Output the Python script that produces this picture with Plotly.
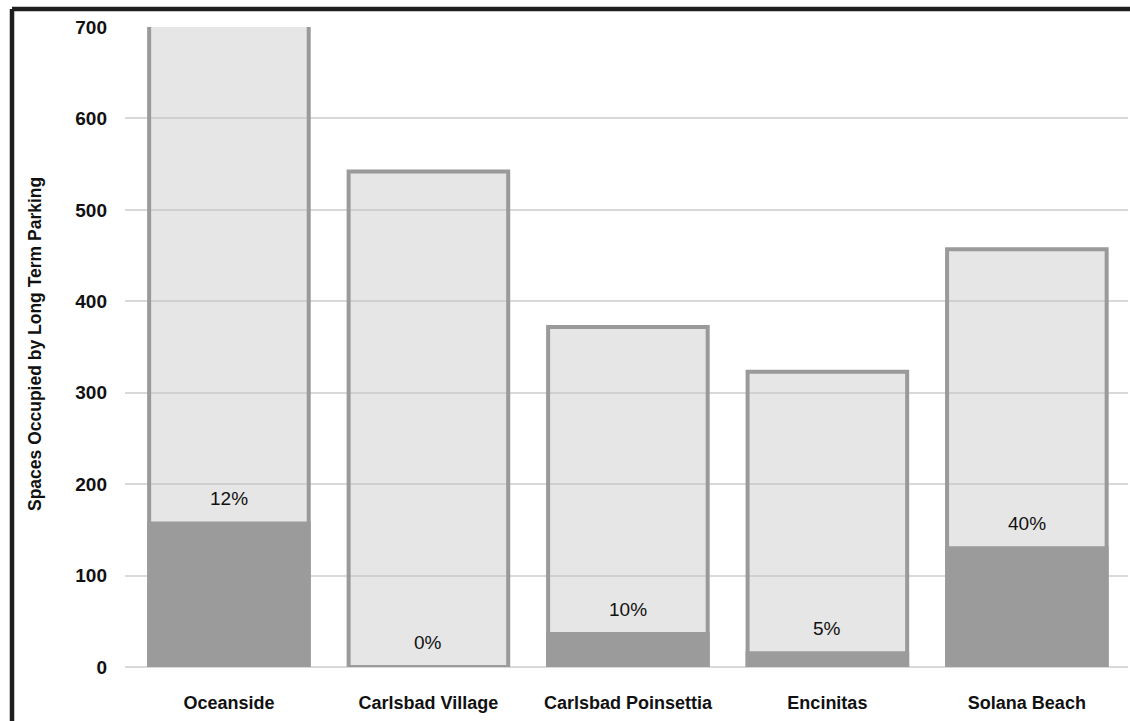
import plotly.graph_objects as go

stations = ["Oceanside", "Carlsbad Village", "Carlsbad Poinsettia", "Encinitas", "Solana Beach"]
total_spaces = [1290, 542, 372, 323, 457]
long_term = [157, 0, 36, 15, 130]
pct_labels = ["12%", "0%", "10%", "5%", "40%"]
y_ticks = [0, 100, 200, 300, 400, 500, 600, 700]

FONT = "Liberation Sans, Arial, Helvetica, sans-serif"
W, H = 1130, 721
L, R, T, B = 125, 2, 27, 54
pw, ph = W - L - R, H - T - B

fig = go.Figure()
fig.add_trace(go.Bar(
    x=list(range(len(stations))), y=total_spaces, width=0.8,
    marker=dict(color="rgba(196,196,196,0.42)", line=dict(color="#9a9a9a", width=4)),
    hoverinfo="skip", showlegend=False,
))
fig.add_trace(go.Bar(
    x=list(range(len(stations))), y=long_term, width=0.8,
    marker=dict(color="#9b9b9b", line=dict(color="#9b9b9b", width=4)),
    hoverinfo="skip", showlegend=False,
))

for i, (v, t) in enumerate(zip(long_term, pct_labels)):
    fig.add_annotation(x=i, y=v, text=t, showarrow=False, yanchor="middle", yshift=25,
                       font=dict(family=FONT, size=19, color="#111"))

fig.add_annotation(xref="paper", yref="paper", x=(35 - L) / pw, y=(H - B - 344) / ph,
                   text="Spaces Occupied by Long Term Parking", textangle=-90,
                   showarrow=False, xanchor="center", yanchor="middle",
                   font=dict(family=FONT, size=17.5, color="#111", weight="bold"))

# frame lines (top and left)
fig.add_shape(type="line", xref="paper", yref="paper",
              x0=(12 - L) / pw, x1=1.1, y0=(H - B - 9) / ph, y1=(H - B - 9) / ph,
              line=dict(color="#1e1e1e", width=4.5))
fig.add_shape(type="line", xref="paper", yref="paper",
              x0=(12 - L) / pw, x1=(12 - L) / pw, y0=(H - B - 9) / ph, y1=-0.2,
              line=dict(color="#1e1e1e", width=4.5))

fig.update_layout(
    width=W, height=H, barmode="overlay",
    margin=dict(l=L, r=R, t=T, b=B),
    paper_bgcolor="white", plot_bgcolor="white",
    xaxis=dict(range=[-0.521, 4.507], tickmode="array", tickvals=list(range(len(stations))),
               ticktext=stations, showgrid=False, zeroline=False, showline=False,
               ticklabelstandoff=23,
               tickfont=dict(family=FONT, size=18, color="#111", weight="bold")),
    yaxis=dict(range=[0, 700], tickmode="array", tickvals=y_ticks,
               showgrid=True, gridcolor="#d9d9d9", gridwidth=2,
               zeroline=True, zerolinecolor="#d9d9d9", zerolinewidth=2,
               showline=False, ticklabelstandoff=17,
               tickfont=dict(family=FONT, size=19, color="#111", weight="bold")),
)

fig.write_html("out.html")
